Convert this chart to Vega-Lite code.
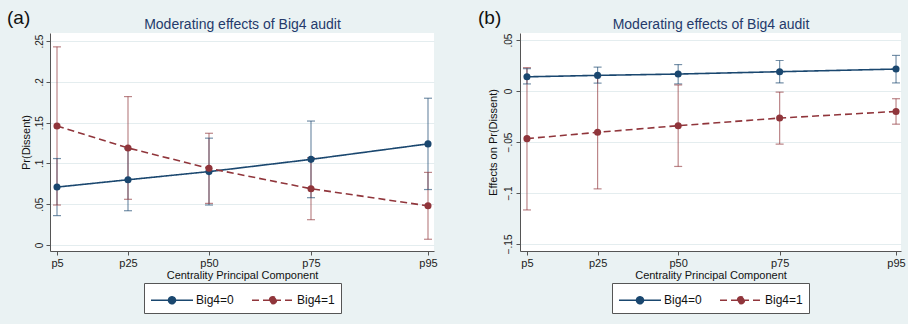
{
  "$schema": "https://vega.github.io/schema/vega-lite/v6.json",
  "background": "#eaf2f3",
  "padding": {"left": 7, "top": 9, "right": 6, "bottom": 10},
  "datasets": {
    "d": [
      {"panel": "a", "group": "Big4=0", "x": 0, "est": 0.071, "lo": 0.036, "hi": 0.106},
      {"panel": "a", "group": "Big4=0", "x": 71, "est": 0.080, "lo": 0.042, "hi": 0.118},
      {"panel": "a", "group": "Big4=0", "x": 152, "est": 0.090, "lo": 0.049, "hi": 0.131},
      {"panel": "a", "group": "Big4=0", "x": 254, "est": 0.105, "lo": 0.058, "hi": 0.152},
      {"panel": "a", "group": "Big4=0", "x": 371, "est": 0.124, "lo": 0.068, "hi": 0.180},
      {"panel": "a", "group": "Big4=1", "x": 0, "est": 0.146, "lo": 0.049, "hi": 0.243},
      {"panel": "a", "group": "Big4=1", "x": 71, "est": 0.119, "lo": 0.056, "hi": 0.182},
      {"panel": "a", "group": "Big4=1", "x": 152, "est": 0.094, "lo": 0.051, "hi": 0.137},
      {"panel": "a", "group": "Big4=1", "x": 254, "est": 0.069, "lo": 0.031, "hi": 0.107},
      {"panel": "a", "group": "Big4=1", "x": 371, "est": 0.048, "lo": 0.007, "hi": 0.089},
      {"panel": "b", "group": "Big4=0", "x": 0, "est": 0.014, "lo": 0.007, "hi": 0.022},
      {"panel": "b", "group": "Big4=0", "x": 71, "est": 0.0154, "lo": 0.0078, "hi": 0.0235},
      {"panel": "b", "group": "Big4=0", "x": 152, "est": 0.0167, "lo": 0.007, "hi": 0.026},
      {"panel": "b", "group": "Big4=0", "x": 254, "est": 0.019, "lo": 0.008, "hi": 0.030},
      {"panel": "b", "group": "Big4=0", "x": 371, "est": 0.0216, "lo": 0.008, "hi": 0.035},
      {"panel": "b", "group": "Big4=1", "x": 0, "est": -0.0467, "lo": -0.1167, "hi": 0.023},
      {"panel": "b", "group": "Big4=1", "x": 71, "est": -0.0405, "lo": -0.096, "hi": 0.015},
      {"panel": "b", "group": "Big4=1", "x": 152, "est": -0.034, "lo": -0.074, "hi": 0.006},
      {"panel": "b", "group": "Big4=1", "x": 254, "est": -0.0265, "lo": -0.052, "hi": -0.001},
      {"panel": "b", "group": "Big4=1", "x": 371, "est": -0.020, "lo": -0.0325, "hi": -0.0075}
    ]
  },
  "hconcat": [
    {
      "width": 384,
      "height": 218,
      "title": {"text": "(a)", "anchor": "start", "frame": "group", "dx": -43, "dy": 11, "fontSize": 19, "fontWeight": "normal", "color": "#111111", "offset": 0},
      "data": {"name": "d"},
      "transform": [{"filter": "datum.panel == 'a'"}],
      "layer": [
        {
          "mark": {"type": "rule", "strokeWidth": 1.2, "opacity": 0.6},
          "encoding": {
            "x": {"field": "x", "type": "quantitative", "scale": {"domain": [-7, 377], "nice": false, "zero": false},
                  "axis": {"orient": "top", "title": "Moderating effects of Big4 audit", "labels": false, "ticks": false, "domain": false, "grid": false, "titleFontSize": 14, "titleColor": "#243a6b", "titlePadding": 2}},
            "y": {"field": "lo", "type": "quantitative", "scale": {"domain": [-0.0074, 0.26], "nice": false, "zero": false},
                  "axis": {"title": "Pr(Dissent)", "values": [0, 0.05, 0.1, 0.15, 0.2, 0.25], "labelExpr": "replace(format(datum.value, '.2~f'), '0.', '.')", "labelAngle": -90, "labelAlign": "center", "labelBaseline": "bottom", "labelPadding": 2, "titlePadding": 3, "grid": true}},
            "y2": {"field": "hi"},
            "color": {"field": "group", "type": "nominal", "scale": {"domain": ["Big4=0", "Big4=1"], "range": ["#1a476f", "#90353b"]}, "legend": {"title": null}}
          }
        },
        {
          "mark": {"type": "tick", "orient": "horizontal", "size": 8, "thickness": 1.2, "opacity": 0.6},
          "encoding": {
            "x": {"field": "x", "type": "quantitative", "axis": null},
            "y": {"field": "lo", "type": "quantitative", "axis": {"title": "Pr(Dissent)", "values": [0, 0.05, 0.1, 0.15, 0.2, 0.25], "labelExpr": "replace(format(datum.value, '.2~f'), '0.', '.')", "labelAngle": -90, "labelAlign": "center", "labelBaseline": "bottom", "labelPadding": 2, "titlePadding": 3, "grid": true}},
            "color": {"field": "group", "type": "nominal", "legend": {"title": null}}
          }
        },
        {
          "mark": {"type": "tick", "orient": "horizontal", "size": 8, "thickness": 1.2, "opacity": 0.6},
          "encoding": {
            "x": {"field": "x", "type": "quantitative", "axis": null},
            "y": {"field": "hi", "type": "quantitative", "axis": {"title": "Pr(Dissent)", "values": [0, 0.05, 0.1, 0.15, 0.2, 0.25], "labelExpr": "replace(format(datum.value, '.2~f'), '0.', '.')", "labelAngle": -90, "labelAlign": "center", "labelBaseline": "bottom", "labelPadding": 2, "titlePadding": 3, "grid": true}},
            "color": {"field": "group", "type": "nominal", "legend": {"title": null}}
          }
        },
        {
          "mark": {"type": "line", "strokeWidth": 1.6, "point": {"filled": true, "size": 50, "opacity": 1}},
          "encoding": {
            "x": {"field": "x", "type": "quantitative",
                  "axis": {"orient": "bottom", "title": "Centrality Principal Component", "values": [0, 71, 152, 254, 371], "labelExpr": "datum.value == 0 ? 'p5' : datum.value == 71 ? 'p25' : datum.value == 152 ? 'p50' : datum.value == 254 ? 'p75' : 'p95'", "grid": false, "labelFontSize": 11, "labelPadding": 2, "titlePadding": 1}},
            "y": {"field": "est", "type": "quantitative", "axis": {"title": "Pr(Dissent)", "values": [0, 0.05, 0.1, 0.15, 0.2, 0.25], "labelExpr": "replace(format(datum.value, '.2~f'), '0.', '.')", "labelAngle": -90, "labelAlign": "center", "labelBaseline": "bottom", "labelPadding": 2, "titlePadding": 3, "grid": true}},
            "color": {"field": "group", "type": "nominal", "legend": {"title": null}},
            "strokeDash": {"field": "group", "type": "nominal", "scale": {"domain": ["Big4=0", "Big4=1"], "range": [[1, 0], [7, 4]]}, "legend": null}
          }
        }
      ],
      "resolve": {"axis": {"x": "independent"}}
    },
    {
      "width": 381,
      "height": 218,
      "title": {"text": "(b)", "anchor": "start", "frame": "group", "dx": -42, "dy": 11, "fontSize": 19, "fontWeight": "normal", "color": "#111111", "offset": 0},
      "data": {"name": "d"},
      "transform": [{"filter": "datum.panel == 'b'"}],
      "layer": [
        {
          "mark": {"type": "rule", "strokeWidth": 1.2, "opacity": 0.6},
          "encoding": {
            "x": {"field": "x", "type": "quantitative", "scale": {"domain": [-7, 376], "nice": false, "zero": false},
                  "axis": {"orient": "top", "title": "Moderating effects of Big4 audit", "labels": false, "ticks": false, "domain": false, "grid": false, "titleFontSize": 14, "titleColor": "#243a6b", "titlePadding": 2}},
            "y": {"field": "lo", "type": "quantitative", "scale": {"domain": [-0.157, 0.057], "nice": false, "zero": false},
                  "axis": {"title": "Effects on Pr(Dissent)", "values": [-0.15, -0.1, -0.05, 0, 0.05], "labelExpr": "replace(format(datum.value, '.2~f'), '0.', '.')", "labelAngle": -90, "labelAlign": "center", "labelBaseline": "bottom", "labelPadding": 3, "titlePadding": 5, "grid": true}},
            "y2": {"field": "hi"},
            "color": {"field": "group", "type": "nominal", "scale": {"domain": ["Big4=0", "Big4=1"], "range": ["#1a476f", "#90353b"]}, "legend": {"title": null}}
          }
        },
        {
          "mark": {"type": "tick", "orient": "horizontal", "size": 8, "thickness": 1.2, "opacity": 0.6},
          "encoding": {
            "x": {"field": "x", "type": "quantitative", "axis": null},
            "y": {"field": "lo", "type": "quantitative", "axis": {"title": "Effects on Pr(Dissent)", "values": [-0.15, -0.1, -0.05, 0, 0.05], "labelExpr": "replace(format(datum.value, '.2~f'), '0.', '.')", "labelAngle": -90, "labelAlign": "center", "labelBaseline": "bottom", "labelPadding": 3, "titlePadding": 5, "grid": true}},
            "color": {"field": "group", "type": "nominal", "legend": {"title": null}}
          }
        },
        {
          "mark": {"type": "tick", "orient": "horizontal", "size": 8, "thickness": 1.2, "opacity": 0.6},
          "encoding": {
            "x": {"field": "x", "type": "quantitative", "axis": null},
            "y": {"field": "hi", "type": "quantitative", "axis": {"title": "Effects on Pr(Dissent)", "values": [-0.15, -0.1, -0.05, 0, 0.05], "labelExpr": "replace(format(datum.value, '.2~f'), '0.', '.')", "labelAngle": -90, "labelAlign": "center", "labelBaseline": "bottom", "labelPadding": 3, "titlePadding": 5, "grid": true}},
            "color": {"field": "group", "type": "nominal", "legend": {"title": null}}
          }
        },
        {
          "mark": {"type": "line", "strokeWidth": 1.6, "point": {"filled": true, "size": 50, "opacity": 1}},
          "encoding": {
            "x": {"field": "x", "type": "quantitative",
                  "axis": {"orient": "bottom", "title": "Centrality Principal Component", "values": [0, 71, 152, 254, 371], "labelExpr": "datum.value == 0 ? 'p5' : datum.value == 71 ? 'p25' : datum.value == 152 ? 'p50' : datum.value == 254 ? 'p75' : 'p95'", "grid": false, "labelFontSize": 11, "labelPadding": 2, "titlePadding": 1}},
            "y": {"field": "est", "type": "quantitative", "axis": {"title": "Effects on Pr(Dissent)", "values": [-0.15, -0.1, -0.05, 0, 0.05], "labelExpr": "replace(format(datum.value, '.2~f'), '0.', '.')", "labelAngle": -90, "labelAlign": "center", "labelBaseline": "bottom", "labelPadding": 3, "titlePadding": 5, "grid": true}},
            "color": {"field": "group", "type": "nominal", "legend": {"title": null}},
            "strokeDash": {"field": "group", "type": "nominal", "scale": {"domain": ["Big4=0", "Big4=1"], "range": [[1, 0], [7, 4]]}, "legend": null}
          }
        }
      ],
      "resolve": {"axis": {"x": "independent"}}
    }
  ],
  "spacing": 40,
  "resolve": {
    "scale": {"x": "independent", "y": "independent", "color": "independent", "strokeDash": "independent"},
    "legend": {"color": "independent", "strokeDash": "independent"}
  },
  "config": {
    "font": "Liberation Sans",
    "view": {"fill": "white", "stroke": null},
    "axis": {"domainColor": "#555555", "tickColor": "#555555", "labelColor": "#222222", "titleColor": "#111111", "titleFontWeight": "normal", "labelFontSize": 10, "titleFontSize": 11, "tickSize": 4, "gridColor": "#e4edef", "gridWidth": 1},
    "legend": {
      "orient": "bottom",
      "direction": "horizontal",
      "layout": {"bottom": {"anchor": "middle"}},
      "offset": 3,
      "fillColor": "white",
      "strokeColor": "#555555",
      "padding": 6,
      "labelFontSize": 12,
      "labelColor": "#111111",
      "symbolType": "M-2.1,0L2.1,0M0.35,0A0.35,0.35,0,1,1,-0.35,0A0.35,0.35,0,1,1,0.35,0Z",
      "symbolSize": 400,
      "symbolStrokeWidth": 1.5,
      "symbolOpacity": 1,
      "symbolOffset": 11,
      "labelOffset": 13,
      "columnPadding": 15
    }
  }
}
